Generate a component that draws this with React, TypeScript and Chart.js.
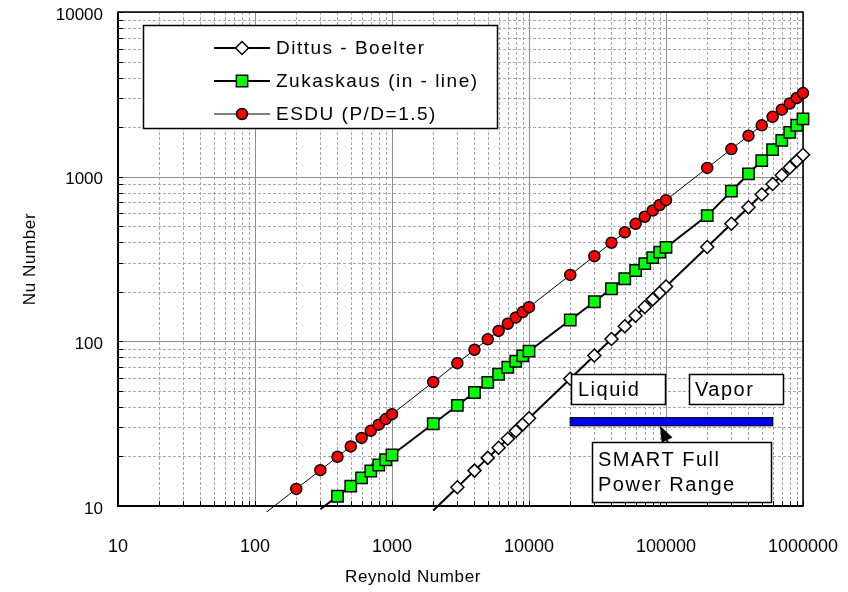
import React, { useEffect, useRef } from 'react';
import { Chart, registerables } from 'chart.js';

Chart.register(...registerables);

// ---- data ----
const reynolds = [
  100, 200, 300, 400, 500, 600, 700, 800, 900,
  1000, 2000, 3000, 4000, 5000, 6000, 7000, 8000, 9000,
  10000, 20000, 30000, 40000, 50000, 60000, 70000, 80000, 90000,
  100000, 200000, 300000, 400000, 500000, 600000, 700000, 800000, 900000,
  1000000,
];
const dittusBoelter = [
  null, null, null, null, null, null, null, null, null,
  null, 9.4, 13.0, 16.4, 19.6, 22.6, 25.6, 28.5, 31.3,
  34.1, 59.3, 82.0, 103.3, 123.5, 142.9, 161.6, 179.8, 197.6,
  215, 374, 518, 652, 779, 902, 1020, 1135, 1247,
  1357,
];
const zukaskaus = [
  null, null, 9.56, 11.46, 13.19, 14.8, 16.31, 17.74, 19.1,
  20.41, 31.6, 40.8, 48.9, 56.3, 63.1, 69.6, 75.7, 81.5,
  87.1, 134.8, 174.0, 208.6, 240.0, 269.3, 296.7, 322.7, 347.7,
  371.6, 580, 816, 1039, 1253, 1460, 1662, 1859, 2052,
  2242,
];
const esdu = [
  8.1, 12.7, 16.5, 19.9, 23.0, 25.9, 28.6, 31.2, 33.7,
  36.1, 56.6, 73.7, 88.9, 102.8, 115.7, 127.9, 139.5, 150.5,
  161.2, 253, 329, 397, 459, 517, 571, 623, 673,
  720, 1130, 1471, 1774, 2051, 2308, 2552, 2783, 3004,
  3217,
];
const seriesNames = ['Dittus - Boelter', 'Zukaskaus (in - line)', 'ESDU (P/D=1.5)'];
const xRange = [10, 1000000];
const yRange = [10, 10000];
const smartRange = [20000, 600000];
const smartBarNu = 32.5;
const regionLabels = ['Liquid', 'Vapor'];
const smartLabel = ['SMART Full', 'Power Range'];
const xTitle = 'Reynold Number';
const yTitle = 'Nu Number';

const FONT = '"Liberation Sans", Arial, sans-serif';

const isPow10 = (v: number) => Math.abs(Math.log10(v) - Math.round(Math.log10(v))) < 1e-9;
const logTicks = (min: number, max: number) => {
  const out: number[] = [];
  for (let d = min; d < max; d *= 10) for (let k = 1; k < 10; k++) out.push(k * d);
  out.push(max);
  return out;
};

const toPoints = (ys: (number | null)[]) =>
  reynolds.map((x, i) => ({ x, y: ys[i] })).filter((p) => p.y !== null);

function drawMarker(ctx: CanvasRenderingContext2D, style: string, x: number, y: number, r: number, fill: string) {
  ctx.save();
  ctx.beginPath();
  if (style === 'circle') {
    ctx.arc(x, y, r, 0, Math.PI * 2);
  } else if (style === 'rect') {
    const s = Math.SQRT1_2 * r;
    ctx.rect(x - s, y - s, 2 * s, 2 * s);
  } else {
    ctx.moveTo(x - r, y);
    ctx.lineTo(x, y - r);
    ctx.lineTo(x + r, y);
    ctx.lineTo(x, y + r);
    ctx.closePath();
  }
  ctx.fillStyle = fill;
  ctx.fill();
  ctx.lineWidth = 1.5;
  ctx.strokeStyle = '#000';
  ctx.stroke();
  ctx.restore();
}

const setSpacing = (ctx: any, v: string) => {
  ctx.letterSpacing = v;
};

const gridPlugin = {
  id: 'customGrid',
  beforeDatasetsDraw(chart: any) {
    const { ctx, chartArea: a, scales } = chart;
    const xs = scales.x, ys = scales.y;
    ctx.save();
    for (const v of logTicks(xRange[0], xRange[1])) {
      const px = Math.round(xs.getPixelForValue(v)) + 0.5;
      const major = isPow10(v);
      ctx.beginPath();
      ctx.setLineDash(major ? [] : [3, 2]);
      ctx.strokeStyle = major ? '#8c8c8c' : '#a6a6a6';
      ctx.lineWidth = 1;
      ctx.moveTo(px, a.top);
      ctx.lineTo(px, a.bottom);
      ctx.stroke();
    }
    for (const v of logTicks(yRange[0], yRange[1])) {
      const py = Math.round(ys.getPixelForValue(v)) + 0.5;
      const major = isPow10(v);
      ctx.beginPath();
      ctx.setLineDash(major ? [] : [3, 2]);
      ctx.strokeStyle = major ? '#8c8c8c' : '#a6a6a6';
      ctx.lineWidth = 1;
      ctx.moveTo(a.left, py);
      ctx.lineTo(a.right, py);
      ctx.stroke();
    }
    ctx.setLineDash([]);
    ctx.strokeStyle = '#000';
    ctx.lineWidth = 1;
    for (const v of logTicks(xRange[0], xRange[1])) {
      const px = Math.round(xs.getPixelForValue(v)) + 0.5;
      ctx.beginPath();
      ctx.moveTo(px, a.bottom);
      ctx.lineTo(px, a.bottom - 5);
      ctx.stroke();
    }
    for (const v of logTicks(yRange[0], yRange[1])) {
      const py = Math.round(ys.getPixelForValue(v)) + 0.5;
      ctx.beginPath();
      ctx.moveTo(a.left, py);
      ctx.lineTo(a.left + 5, py);
      ctx.stroke();
    }
    ctx.strokeStyle = '#000';
    ctx.lineWidth = 1.5;
    ctx.strokeRect(a.left, a.top, a.right - a.left, a.bottom - a.top);
    ctx.lineWidth = 2;
    ctx.beginPath();
    ctx.moveTo(a.left, a.top);
    ctx.lineTo(a.left, a.bottom);
    ctx.lineTo(a.right, a.bottom);
    ctx.stroke();
    ctx.restore();
  },
  afterDatasetsDraw(chart: any) {
    const { ctx, scales } = chart;
    const xs = scales.x, ys = scales.y;
    ctx.save();
    ctx.font = `20px ${FONT}`;
    setSpacing(ctx, '1.5px');
    ctx.textBaseline = 'middle';
    ctx.textAlign = 'left';

    const box = (x: number, y: number, w: number, h: number) => {
      ctx.fillStyle = '#fff';
      ctx.fillRect(x, y, w, h);
      ctx.strokeStyle = '#000';
      ctx.lineWidth = 1.5;
      ctx.strokeRect(x, y, w, h);
    };
    box(571.5, 374.5, 94, 30);
    ctx.fillStyle = '#000';
    ctx.fillText(regionLabels[0], 578, 390);
    box(689.5, 374.5, 94, 30);
    ctx.fillStyle = '#000';
    ctx.fillText(regionLabels[1], 695, 390);

    const bx0 = xs.getPixelForValue(smartRange[0]);
    const bx1 = xs.getPixelForValue(smartRange[1]);
    const by = ys.getPixelForValue(smartBarNu);
    ctx.fillStyle = '#0000ff';
    ctx.fillRect(bx0, by - 4, bx1 - bx0, 8);
    ctx.strokeStyle = '#000';
    ctx.lineWidth = 1.2;
    ctx.strokeRect(bx0, by - 4, bx1 - bx0, 8);

    box(592.5, 442.5, 179, 60);
    ctx.fillStyle = '#000';
    ctx.fillText(smartLabel[0], 598, 460);
    ctx.fillText(smartLabel[1], 598, 485);

    const tx = 660, ty = by + 4, sx = 668, sy = 442;
    const dx = tx - sx, dy = ty - sy;
    const len = Math.hypot(dx, dy);
    const ux = dx / len, uy = dy / len;
    const hl = 16, hw = 6;
    const bxh = tx - ux * hl, byh = ty - uy * hl;
    ctx.strokeStyle = '#000';
    ctx.lineWidth = 1.5;
    ctx.beginPath();
    ctx.moveTo(sx, sy);
    ctx.lineTo(bxh, byh);
    ctx.stroke();
    ctx.beginPath();
    ctx.moveTo(tx, ty);
    ctx.lineTo(bxh - uy * hw, byh + ux * hw);
    ctx.lineTo(bxh + uy * hw, byh - ux * hw);
    ctx.closePath();
    ctx.fillStyle = '#000';
    ctx.fill();
    ctx.restore();
  },
  afterDraw(chart: any) {
    const { ctx, chartArea: a } = chart;
    ctx.save();
    ctx.fillStyle = '#fff';
    ctx.fillRect(143.5, 25.5, 354, 103);
    ctx.strokeStyle = '#000';
    ctx.lineWidth = 1.5;
    ctx.strokeRect(143.5, 25.5, 354, 103);
    chart.data.datasets.forEach((ds: any, i: number) => {
      const y = 48 + i * 33;
      ctx.beginPath();
      ctx.strokeStyle = '#000';
      ctx.lineWidth = ds.borderWidth;
      ctx.moveTo(214, y);
      ctx.lineTo(270, y);
      ctx.stroke();
      drawMarker(ctx, ds.pointStyle, 242, y, ds.legendRadius, ds.pointBackgroundColor);
      ctx.fillStyle = '#000';
      ctx.font = `19px ${FONT}`;
      setSpacing(ctx, '1.5px');
      ctx.textBaseline = 'middle';
      ctx.textAlign = 'left';
      ctx.fillText(ds.label, 276, y + 1);
    });
    ctx.font = `17px ${FONT}`;
    setSpacing(ctx, '0.6px');
    ctx.fillStyle = '#000';
    ctx.textAlign = 'center';
    ctx.textBaseline = 'middle';
    ctx.fillText(xTitle, 413, 577);
    ctx.translate(30, (a.top + a.bottom) / 2);
    ctx.rotate(-Math.PI / 2);
    ctx.fillText(yTitle, 0, 0);
    ctx.restore();
  },
};

const radiusFor = (r: number) => (c: any) => {
  const v = c.raw && c.raw.y;
  return v == null || v < yRange[0] ? 0 : r;
};

export default function App() {
  const ref = useRef<HTMLCanvasElement>(null);
  useEffect(() => {
    if (!ref.current) return;
    const clip = { left: 2, top: 10, right: 10, bottom: 6 };
    const chart = new Chart(ref.current, {
      type: 'line',
      data: {
        datasets: [
          {
            label: seriesNames[0],
            data: toPoints(dittusBoelter),
            borderColor: '#000',
            borderWidth: 2,
            pointStyle: 'rectRot',
            pointRadius: radiusFor(6.5),
            legendRadius: 6.5,
            pointBackgroundColor: '#ffffff',
            pointBorderColor: '#000',
            pointBorderWidth: 1.5,
            clip,
          } as any,
          {
            label: seriesNames[1],
            data: toPoints(zukaskaus),
            borderColor: '#000',
            borderWidth: 2,
            pointStyle: 'rect',
            pointRadius: radiusFor(8),
            legendRadius: 8,
            pointBackgroundColor: '#00ff00',
            pointBorderColor: '#000',
            pointBorderWidth: 1.5,
            clip,
          } as any,
          {
            label: seriesNames[2],
            data: toPoints(esdu),
            borderColor: '#000',
            borderWidth: 1,
            pointStyle: 'circle',
            pointRadius: radiusFor(5.5),
            legendRadius: 5.5,
            pointBackgroundColor: '#ff0000',
            pointBorderColor: '#000',
            pointBorderWidth: 1.5,
            clip,
          } as any,
        ],
      },
      options: {
        responsive: false,
        animation: false,
        layout: { padding: { left: 0, right: 45, top: 12, bottom: 0 } },
        plugins: { legend: { display: false }, tooltip: { enabled: false } },
        scales: {
          x: {
            type: 'logarithmic',
            min: xRange[0],
            max: xRange[1],
            afterBuildTicks: (s: any) => {
              s.ticks = logTicks(xRange[0], xRange[1]).map((value) => ({ value }));
            },
            afterFit: (s: any) => {
              s.height = 86;
              s.paddingLeft = 0;
              s.paddingRight = 0;
            },
            ticks: {
              autoSkip: false,
              maxRotation: 0,
              padding: 30,
              color: '#000',
              font: { family: FONT, size: 18 },
              callback: (v: any) => (isPow10(Number(v)) ? String(v) : ''),
            },
            grid: { display: false, drawTicks: false },
            border: { display: false },
          },
          y: {
            type: 'logarithmic',
            min: yRange[0],
            max: yRange[1],
            afterBuildTicks: (s: any) => {
              s.ticks = logTicks(yRange[0], yRange[1]).map((value) => ({ value }));
            },
            afterFit: (s: any) => {
              s.width = 118;
              s.paddingTop = 0;
              s.paddingBottom = 0;
            },
            ticks: {
              autoSkip: false,
              padding: 15,
              labelOffset: 3,
              color: '#000',
              font: { family: FONT, size: 17 },
              callback: (v: any) => (isPow10(Number(v)) ? String(v) : ''),
            },
            grid: { display: false, drawTicks: false },
            border: { display: false },
          },
        },
      } as any,
      plugins: [gridPlugin],
    });
    return () => chart.destroy();
  }, []);

  return (
    <div style={{ position: 'fixed', left: 0, top: 0, width: 848, height: 592, background: '#fff' }}>
      <canvas ref={ref} width={848} height={592} style={{ display: 'block' }} />
    </div>
  );
}
